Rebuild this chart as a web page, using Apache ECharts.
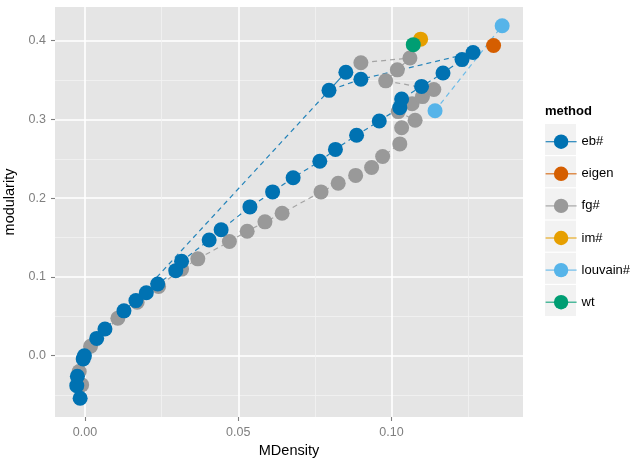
<!DOCTYPE html>
<html><head><meta charset="utf-8">
<script src="https://cdn.jsdelivr.net/npm/echarts@6/dist/echarts.min.js"></script>
<style>html,body{margin:0;padding:0;background:#fff}#c{width:635px;height:460px}</style>
</head><body><div id="c"></div>
<script>
const methods = ['eb#', 'eigen', 'fg#', 'im#', 'louvain#', 'wt'];
const colors = ['#0072B2', '#D55E00', '#999999', '#E69F00', '#56B4E9', '#009E73'];

// eb# (path order)
const ebX = [-0.0016, -0.0027, -0.0025, -0.0006, 0.0038, 0.0065, 0.0127, 0.0166, 0.0200, 0.0237,
  0.0296, 0.0315, 0.0405, 0.0444, 0.0538, 0.0612, 0.0679, 0.0766, 0.0817, 0.0886,
  0.0960, 0.1027, 0.1033, 0.1098, 0.1168, 0.1230, 0.1266, 0.0900, 0.0796, 0.0851, -0.0002];
const ebY = [-0.054, -0.038, -0.026, -0.004, 0.022, 0.034, 0.057, 0.070, 0.080, 0.091,
  0.108, 0.120, 0.147, 0.160, 0.189, 0.208, 0.226, 0.247, 0.262, 0.280,
  0.298, 0.315, 0.326, 0.342, 0.359, 0.376, 0.385, 0.351, 0.337, 0.360, 0.000];

// fg# (path order)
const fgX = [-0.0011, -0.0019, 0.0018, 0.0107, 0.0170, 0.0240, 0.0315, 0.0368, 0.0471, 0.0529,
  0.0587, 0.0643, 0.0770, 0.0826, 0.0883, 0.0935, 0.0971, 0.1027, 0.1033, 0.1077,
  0.1022, 0.1067, 0.1101, 0.1138, 0.0981, 0.1019, 0.1060, 0.0900];
const fgY = [-0.037, -0.020, 0.012, 0.0475, 0.068, 0.088, 0.110, 0.123, 0.145, 0.158,
  0.170, 0.181, 0.208, 0.219, 0.229, 0.239, 0.253, 0.269, 0.2895, 0.299,
  0.310, 0.320, 0.329, 0.338, 0.349, 0.363, 0.378, 0.372];

const louvainX = [0.1142, 0.1361];
const louvainY = [0.311, 0.419];
const eigenX = [0.1333];
const eigenY = [0.394];
const imX = [0.1095];
const imY = [0.402];
const wtX = [0.1071];
const wtY = [0.395];

const xMajorTicks = [0, 0.05, 0.10];
const xMinorTicks = [0.025, 0.075, 0.125];
const yMajorTicks = [0, 0.1, 0.2, 0.3, 0.4];
const yMinorTicks = [-0.05, 0.05, 0.15, 0.25, 0.35];

const FONT = "'Liberation Sans', Arial, sans-serif";
const zip = (xs, ys) => xs.map((x, i) => [x, ys[i]]);
const seriesData = {
  'eb#': zip(ebX, ebY), 'eigen': zip(eigenX, eigenY), 'fg#': zip(fgX, fgY),
  'im#': zip(imX, imY), 'louvain#': zip(louvainX, louvainY), 'wt': zip(wtX, wtY)
};
const colorOf = m => colors[methods.indexOf(m)];

const series = [];
methods.forEach(m => {
  series.push({
    name: m, type: 'line', data: seriesData[m], showSymbol: false, symbol: 'circle',
    xAxisIndex: 0, yAxisIndex: 0, z: 2, silent: true, animation: false,
    lineStyle: { color: colorOf(m), width: 1.2, type: [5, 4], opacity: 0.85 },
    itemStyle: { color: colorOf(m) }
  });
});
const drawOrder = ['fg#', 'eb#', 'louvain#', 'eigen', 'im#', 'wt'];
drawOrder.forEach((m, i) => {
  series.push({
    name: m, type: 'scatter', data: seriesData[m], symbolSize: 15,
    xAxisIndex: 0, yAxisIndex: 0, z: 3 + i, silent: true, animation: false,
    itemStyle: { color: colorOf(m), opacity: 1 }
  });
});

const XMIN = -0.0098, XMAX = 0.1429, YMIN = -0.0778, YMAX = 0.4428;
const chart = echarts.init(document.getElementById('c'), null, { renderer: 'canvas' });
const graphics = [{ type: 'text', x: 545, y: 111, z: 1,
  style: { text: 'method', fontSize: 13, fontWeight: 'bold', fontFamily: FONT, fill: '#000', verticalAlign: 'middle' } }];
methods.forEach((m, i) => {
  graphics.push({ type: 'rect', z: 0, shape: { x: 545, y: 124 + i * 32.2, width: 31, height: 31 },
    style: { fill: '#F2F2F2' } });
});

const tickStyle = { color: '#7F7F7F', width: 1.1 };
chart.setOption({
  animation: false,
  backgroundColor: '#fff',
  textStyle: { fontFamily: FONT },
  grid: { left: 55, right: 112, top: 7, bottom: 43, show: true, backgroundColor: '#E5E5E5', borderWidth: 0,
    containLabel: false, outerBoundsMode: 'none' },
  graphic: graphics,
  legend: {
    data: methods, orient: 'vertical', left: 545, top: 134.5, padding: 0,
    itemWidth: 31, itemHeight: 18, itemGap: 17.7,
    selectedMode: false, textStyle: { fontSize: 13, color: '#000', fontFamily: FONT },
    lineStyle: { type: 'solid', width: 1.2 }
  },
  xAxis: [{
    type: 'value', min: XMIN, max: XMAX, position: 'bottom',
    name: 'MDensity', nameLocation: 'middle', nameGap: 17,
    nameTextStyle: { fontSize: 14.5, color: '#000', fontFamily: FONT },
    axisLine: { show: true, onZero: false, lineStyle: { color: 'rgba(0,0,0,0)' } },
    axisTick: { show: true, inside: false, length: 4, customValues: xMajorTicks, lineStyle: tickStyle },
    axisLabel: { customValues: xMajorTicks, formatter: v => v.toFixed(2), color: '#7F7F7F', fontSize: 12.5, margin: 9, fontFamily: FONT },
    splitLine: { show: true, lineStyle: { color: '#FFFFFF', width: 1.6 } }
  }, {
    type: 'value', min: XMIN, max: XMAX, position: 'bottom',
    axisLine: { show: false, onZero: false },
    axisTick: { show: false, customValues: xMinorTicks },
    axisLabel: { show: false, customValues: xMinorTicks },
    splitLine: { show: true, lineStyle: { color: '#F2F2F2', width: 0.8 } }
  }],
  yAxis: [{
    type: 'value', min: YMIN, max: YMAX, position: 'left',
    name: 'modularity', nameLocation: 'middle', nameGap: 21,
    nameTextStyle: { fontSize: 14.5, color: '#000', fontFamily: FONT, padding: [0, 0, 0, 20] },
    axisLine: { show: true, onZero: false, lineStyle: { color: 'rgba(0,0,0,0)' } },
    axisTick: { show: true, inside: false, length: 4, customValues: yMajorTicks, lineStyle: tickStyle },
    axisLabel: { customValues: yMajorTicks, formatter: v => v.toFixed(1), color: '#7F7F7F', fontSize: 12.5, margin: 9, fontFamily: FONT },
    splitLine: { show: true, lineStyle: { color: '#FFFFFF', width: 1.6 } }
  }, {
    type: 'value', min: YMIN, max: YMAX, position: 'left',
    axisLine: { show: false, onZero: false },
    axisTick: { show: false, customValues: yMinorTicks },
    axisLabel: { show: false, customValues: yMinorTicks },
    splitLine: { show: true, lineStyle: { color: '#F2F2F2', width: 0.8 } }
  }],
  series: series
});
</script></body></html>
